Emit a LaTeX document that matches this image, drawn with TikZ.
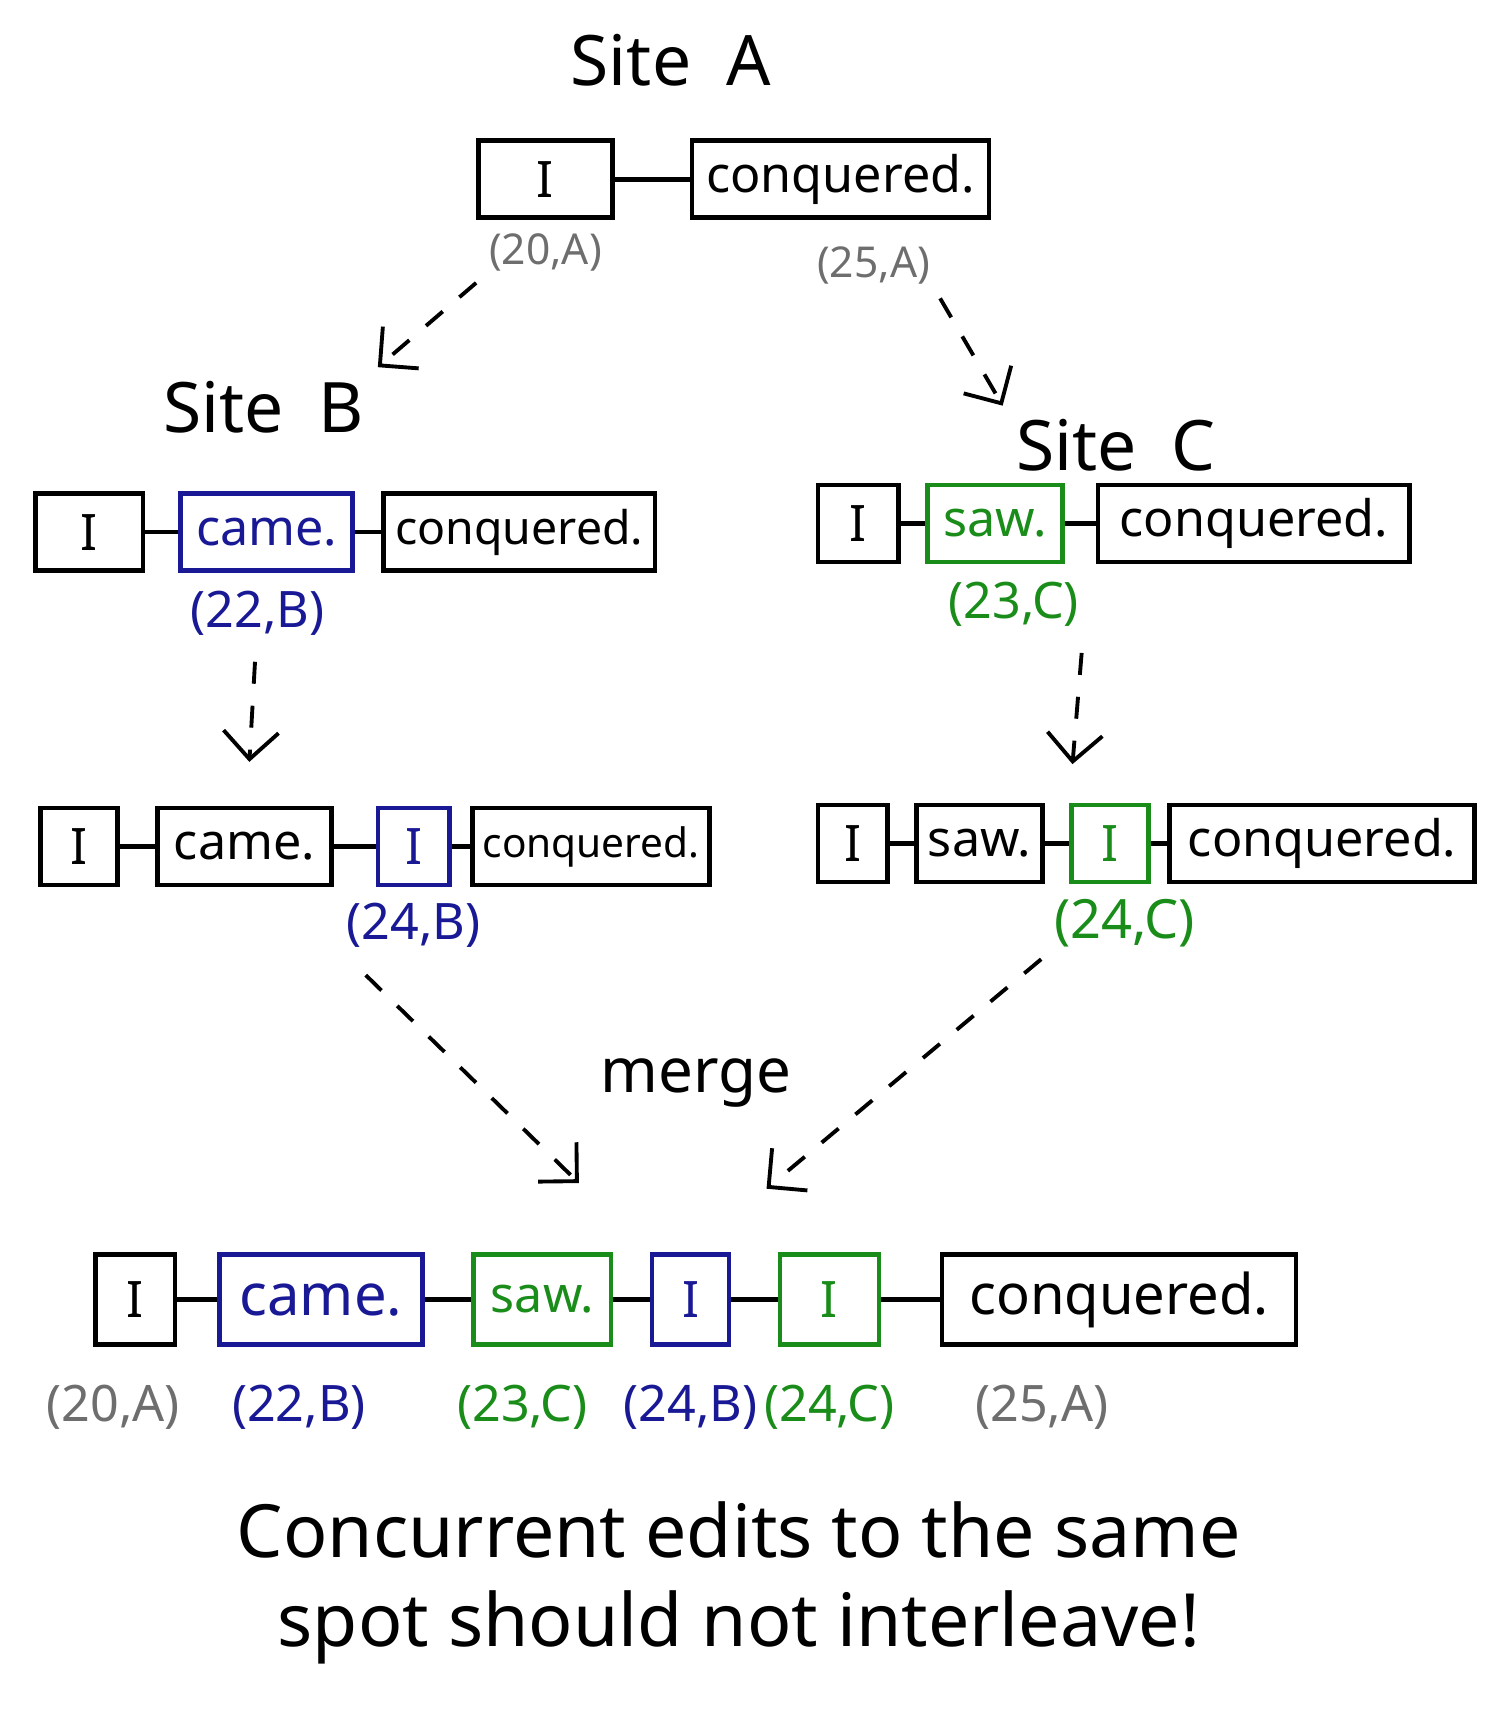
\documentclass[tikz,border=0pt]{standalone}
\usepackage{fontspec}
\setmainfont{Noto Sans}
\usetikzlibrary{positioning,arrows.meta}
\definecolor{sitebcolor}{RGB}{25,25,150}
\definecolor{siteccolor}{RGB}{25,140,25}
\definecolor{idcolor}{RGB}{110,110,110}

\begin{document}
\begin{tikzpicture}[
    x=0.01cm, y=-0.01cm,
    box/.style={rectangle, draw, line width=1.2pt, minimum height=0.7cm, inner xsep=2pt, font=\fontsize{13}{15}\selectfont},
    bbox/.style={box, draw=sitebcolor, text=sitebcolor},
    cbox/.style={box, draw=siteccolor, text=siteccolor},
    stamp/.style={inner sep=1pt, font=\fontsize{13}{15}\selectfont},
    site/.style={font=\fontsize{18}{22}\selectfont},
    link/.style={line width=1.2pt},
    arrow/.style={-{Straight Barb[length=2.5mm,width=5mm]}, line width=1pt, dash pattern=on 2mm off 2mm}
]
\useasboundingbox (0,0) rectangle (1361,1568);

% Site A
\node[site] (titleA) at (610,55) {Site\enspace A};
\node[box, anchor=west, minimum width=1.22cm] (aI) at (433,163) {I};
\node[box, right=0.68cm of aI, minimum width=2.7cm] (aconq) {conquered.};
\node[stamp, text=idcolor, below=0.08cm of aI, font=\fontsize{11}{13}\selectfont] (la1) {(20,A)};
\node[stamp, text=idcolor, below=0.2cm of aconq, xshift=0.3cm, font=\fontsize{11}{13}\selectfont] (la2) {(25,A)};

% Site B
\node[site] (titleB) at (240,370) {Site\enspace B};
\node[box, anchor=west, minimum width=0.98cm] (bI) at (30,484) {I};
\node[bbox, right=0.3cm of bI, minimum width=1.56cm] (bcame) {came.};
\node[box, right=0.24cm of bcame, minimum width=2.47cm, font=\fontsize{12}{14}\selectfont] (bconq) {conquered.};
\node[stamp, text=sitebcolor, below=0.12cm of bcame, xshift=-0.08cm] (lb) {(22,B)};

% Site C
\node[site] (titleC) at (1015,405) {Site\enspace C};
\node[box, anchor=west, minimum width=0.73cm] (cI) at (742,476) {I};
\node[cbox, right=0.22cm of cI, minimum width=1.23cm] (csaw) {saw.};
\node[box, right=0.28cm of csaw, minimum width=2.83cm] (cconq) {conquered.};
\node[stamp, text=siteccolor, below=0.12cm of csaw, xshift=0.17cm] (lc) {(23,C)};

% B after insert
\node[box, anchor=west, minimum width=0.7cm] (b2I) at (35,770) {I};
\node[box, right=0.32cm of b2I, minimum width=1.58cm] (b2came) {came.};
\node[bbox, right=0.38cm of b2came, minimum width=0.65cm] (b2new) {I};
\node[box, right=0.17cm of b2new, minimum width=2.15cm, font=\fontsize{10.5}{13}\selectfont] (b2conq) {conquered.};
\node[stamp, text=sitebcolor, below=0.1cm of b2new] (lb2) {(24,B)};

% C after insert
\node[box, anchor=west, minimum width=0.63cm] (c2I) at (742,767) {I};
\node[box, right=0.22cm of c2I, minimum width=1.15cm] (c2saw) {saw.};
\node[cbox, right=0.22cm of c2saw, minimum width=0.7cm] (c2new) {I};
\node[box, right=0.15cm of c2new, minimum width=2.77cm] (c2conq) {conquered.};
\node[stamp, text=siteccolor, below=0.1cm of c2new, xshift=0.13cm, font=\fontsize{14}{16}\selectfont] (lc2) {(24,C)};

% merged
\node[font=\fontsize{16}{19}\selectfont] (merge) at (633,985) {merge};
\node[box, anchor=west, minimum width=0.72cm, minimum height=0.82cm] (fI) at (85,1182) {I};
\node[bbox, right=0.36cm of fI, minimum width=1.85cm, minimum height=0.82cm, font=\fontsize{15}{17}\selectfont] (fcame) {came.};
\node[cbox, right=0.42cm of fcame, minimum width=1.25cm, minimum height=0.82cm] (fsaw) {saw.};
\node[bbox, right=0.33cm of fsaw, minimum width=0.7cm, minimum height=0.82cm] (fnewb) {I};
\node[cbox, right=0.42cm of fnewb, minimum width=0.9cm, minimum height=0.82cm] (fnewc) {I};
\node[box, right=0.53cm of fnewc, minimum width=3.22cm, minimum height=0.82cm, font=\fontsize{14.5}{17}\selectfont] (fconq) {conquered.};
\node[stamp, text=idcolor, below=0.3cm of fI, xshift=-0.2cm] (lf1) {(20,A)};
\node[stamp, text=sitebcolor, below=0.3cm of fcame, xshift=-0.2cm] (lf2) {(22,B)};
\node[stamp, text=siteccolor, below=0.3cm of fsaw, xshift=-0.18cm] (lf3) {(23,C)};
\node[stamp, text=sitebcolor, below=0.3cm of fnewb] (lf4) {(24,B)};
\node[stamp, text=siteccolor, below=0.3cm of fnewc] (lf5) {(24,C)};
\node[stamp, text=idcolor, below=0.3cm of fconq, xshift=-0.7cm] (lf6) {(25,A)};

\node[align=center, font=\fontsize{19}{23}\selectfont] (note) at (672,1440) {Concurrent edits to the same\\spot should not interleave!};

% Links
\draw[link] (aI) -- (aconq);
\draw[link] (bI) -- (bcame);
\draw[link] (bcame) -- (bconq);
\draw[link] (cI) -- (csaw);
\draw[link] (csaw) -- (cconq);
\draw[link] (b2I) -- (b2came);
\draw[link] (b2came) -- (b2new);
\draw[link] (b2new) -- (b2conq);
\draw[link] (c2I) -- (c2saw);
\draw[link] (c2saw) -- (c2new);
\draw[link] (c2new) -- (c2conq);
\draw[link] (fI) -- (fcame);
\draw[link] (fcame) -- (fsaw);
\draw[link] (fsaw) -- (fnewb);
\draw[link] (fnewb) -- (fnewc);
\draw[link] (fnewc) -- (fconq);

% Arrows
\draw[arrow, shorten <=1mm] (la1.south west) -- (titleB.north east);
\draw[arrow, shorten <=1mm] (la2.south east) -- (titleC.north west);
\draw[arrow, shorten <=2mm, shorten >=4mm] (lb) -- (b2came);
\draw[arrow, shorten <=2mm, shorten >=3.5mm] (lc.south east) -- (c2new.north west);
\draw[arrow, shorten <=3mm, shorten >=9mm] (lb2.south west) -- (fnewb.north west);
\draw[arrow, shorten <=1mm, shorten >=9mm] (lc2.south west) -- (fnewb.north);

\end{tikzpicture}
\end{document}
